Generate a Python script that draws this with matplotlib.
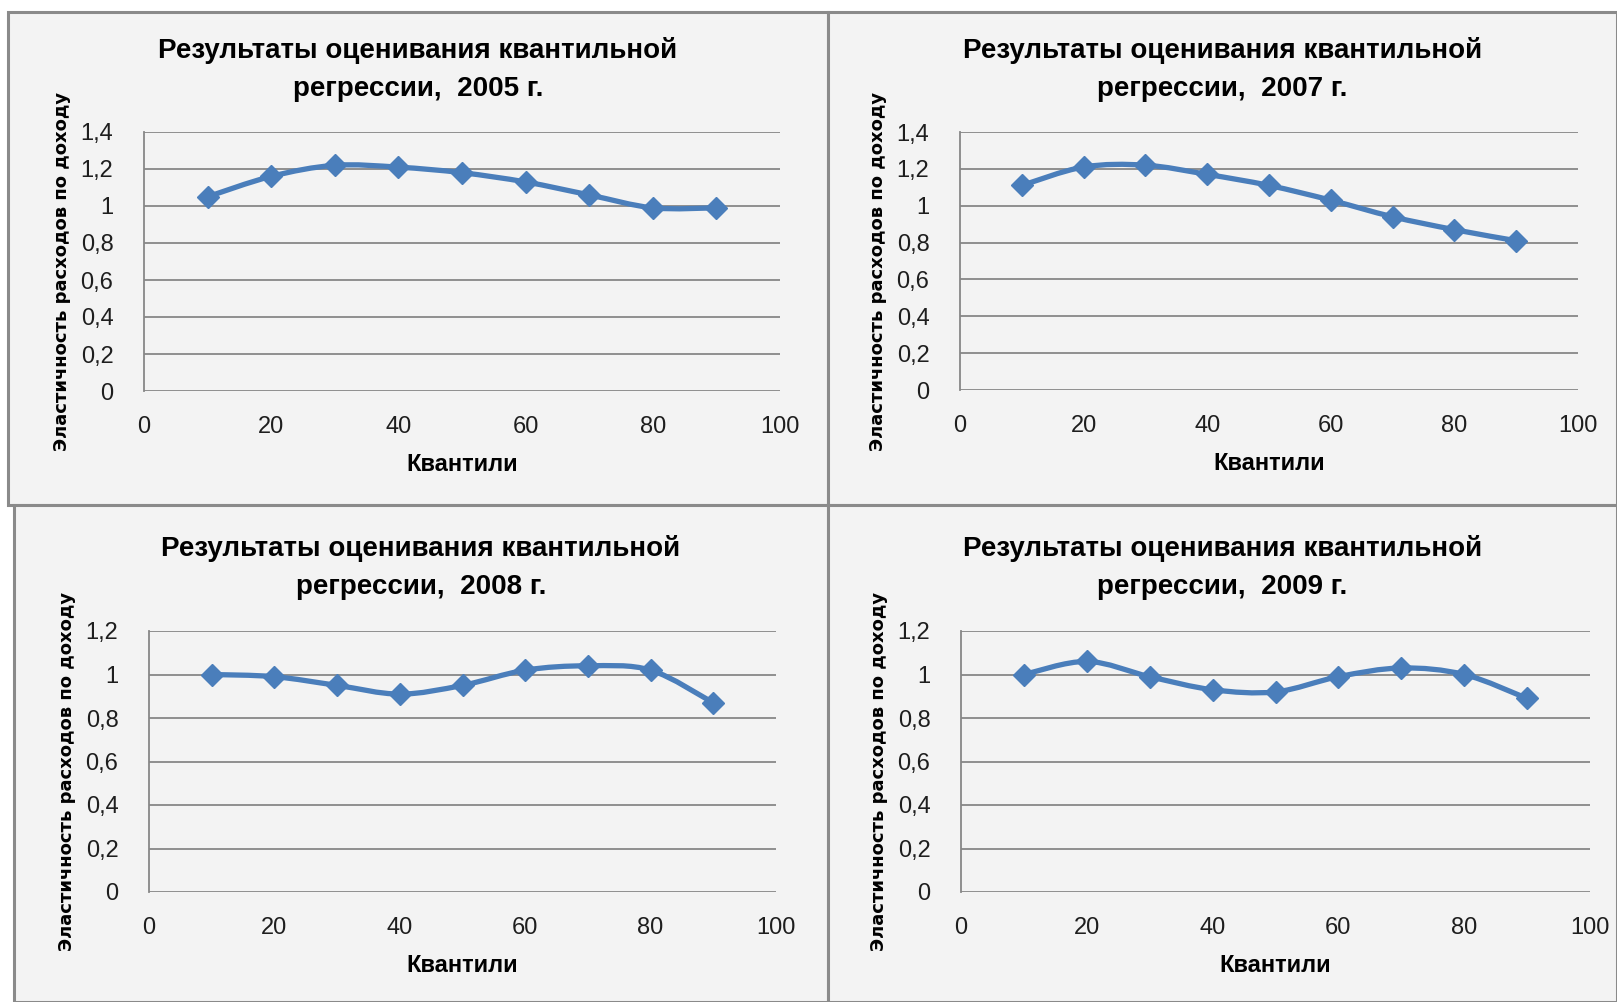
import numpy as np
import matplotlib
matplotlib.use("Agg")
import matplotlib.pyplot as plt
from matplotlib.path import Path
from matplotlib.patches import PathPatch, Rectangle

W, H = 1617, 1002

quantiles = [10, 20, 30, 40, 50, 60, 70, 80, 90]
years = ["2005", "2007", "2008", "2009"]
y2005 = [1.05, 1.16, 1.22, 1.21, 1.18, 1.13, 1.06, 0.99, 0.99]
y2007 = [1.11, 1.21, 1.22, 1.17, 1.11, 1.03, 0.94, 0.87, 0.81]
y2008 = [1.00, 0.99, 0.95, 0.91, 0.95, 1.02, 1.04, 1.02, 0.87]
y2009 = [1.00, 1.06, 0.99, 0.93, 0.92, 0.99, 1.03, 1.00, 0.89]
series = [y2005, y2007, y2008, y2009]
ymax = [1.4, 1.4, 1.2, 1.2]
xticks = [0, 20, 40, 60, 80, 100]

title_tpl = "Результаты оценивания квантильной\nрегрессии,  {} г."
ylabel = "Эластичность расходов по доходу"
xlabel = "Квантили"

# layout in pixels: panel box (l, t, r, b), plot box (l, t, r, b)
panel_boxes = [(8, 12, 828, 505), (828, 12, 1617, 505),
               (14, 505, 828, 1002), (828, 505, 1617, 1002)]
plot_boxes = [(144, 132, 780, 391), (960, 132, 1578, 390),
              (149, 631, 776, 892), (961, 631, 1590, 892)]

BLUE = "#4a7ebb"
GRID = "#878787"
TXT_FONT = ["Liberation Sans", "DejaVu Sans"]

fig = plt.figure(figsize=(W / 100, H / 100), dpi=100)
fig.patch.set_facecolor("white")


def smooth_path(xs, ys):
    # bezier like excel smoothed line
    pts = np.column_stack([xs, ys]).astype(float)
    n = len(pts)
    verts = [pts[0]]
    codes = [Path.MOVETO]
    for i in range(n - 1):
        p0 = pts[i - 1] if i > 0 else pts[i]
        p1 = pts[i]
        p2 = pts[i + 1]
        p3 = pts[i + 2] if i + 2 < n else pts[i + 1]
        c1 = p1 + (p2 - p0) / 6.0
        c2 = p2 - (p3 - p1) / 6.0
        verts += [c1, c2, p2]
        codes += [Path.CURVE4] * 3
    return Path(verts, codes)


for k in range(4):
    pl, pt, pr, pb = panel_boxes[k]
    fig.patches.append(Rectangle((pl / W, 1 - pb / H), (pr - pl) / W, (pb - pt) / H,
                                 transform=fig.transFigure, facecolor="#f3f3f3",
                                 edgecolor="#8a8a8a", lw=2.2, zorder=-5))

for k in range(4):
    l, t, r, b = plot_boxes[k]
    pl, pt, pr, pb = panel_boxes[k]
    ax = fig.add_axes([l / W, 1 - b / H, (r - l) / W, (b - t) / H], zorder=2)
    ax.set_facecolor("none")
    ax.set_xlim(0, 100)
    ax.set_ylim(0, ymax[k])
    yt = np.round(np.arange(0, ymax[k] + 0.01, 0.2), 1)
    ax.set_yticks(yt)
    ax.set_yticklabels([("%g" % v).replace(".", ",") for v in yt])
    ax.set_xticks(xticks)
    ax.grid(axis="y", color=GRID, lw=1.3)
    ax.set_axisbelow(True)
    for s in ["top", "right", "bottom"]:
        ax.spines[s].set_visible(False)
    ax.spines["left"].set_color(GRID)
    ax.spines["left"].set_linewidth(1.3)
    ax.tick_params(length=0, labelsize=17, colors="#1e1e1e")
    ax.tick_params(axis="y", pad=22)
    ax.tick_params(axis="x", pad=18)
    for lab in ax.get_xticklabels() + ax.get_yticklabels():
        lab.set_family(TXT_FONT)

    ax.add_patch(PathPatch(smooth_path(quantiles, series[k]), fill=False,
                           edgecolor=BLUE, lw=3.8, zorder=3, clip_on=False))
    ax.plot(quantiles, series[k], ls="none", marker="D", ms=11, color=BLUE,
            zorder=4, clip_on=False)

    fig.text((pl + pr) / 2 / W, 1 - (t - 63) / H, title_tpl.format(years[k]),
             ha="center", va="center", fontsize=20, fontweight="bold",
             family=TXT_FONT, linespacing=1.6)
    fig.text((l - 82) / W, 1 - ((t + b) / 2 + 10) / H, ylabel, rotation=90,
             ha="center", va="center", fontsize=13, fontweight="bold",
             family=["DejaVu Sans"])
    fig.text((l + r) / 2 / W, 1 - (b + 74) / H, xlabel, ha="center", va="center",
             fontsize=17, fontweight="bold", family=TXT_FONT)

fig.savefig("out.png", dpi=100, facecolor="white")
